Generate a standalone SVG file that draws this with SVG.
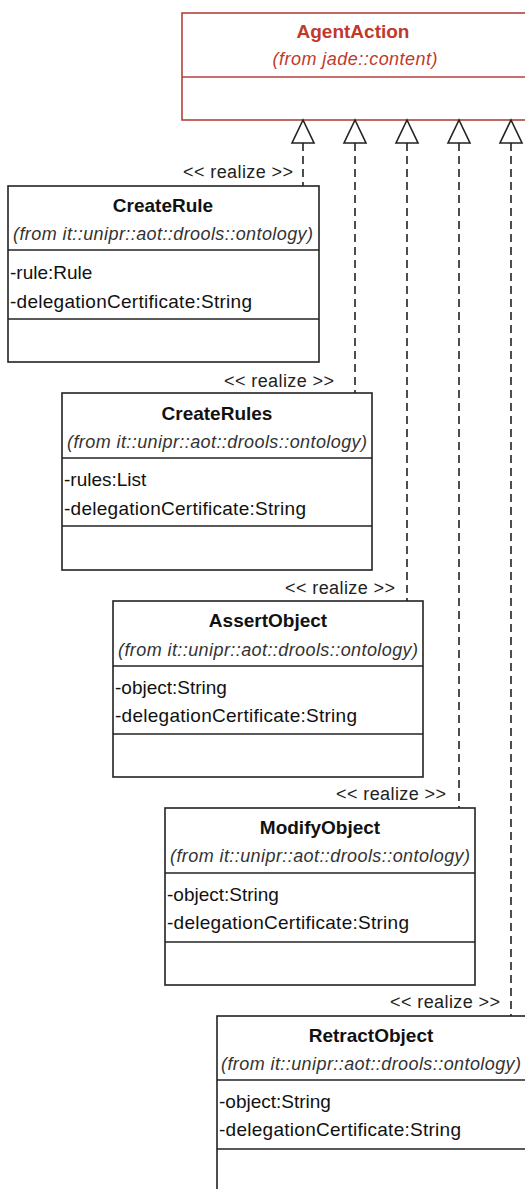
<svg xmlns="http://www.w3.org/2000/svg" width="525" height="1189" viewBox="0 0 525 1189">
<style>
  .box{fill:#ffffff;stroke:#222222;stroke-width:1.6}
  .sep{stroke:#222222;stroke-width:1.6}
  .abox{fill:#ffffff;stroke:#b5413a;stroke-width:1.6}
  .asep{stroke:#b5413a;stroke-width:1.6}
  .title{font-family:"Liberation Sans",Arial,sans-serif;font-weight:bold;font-size:19px;fill:#111111;text-anchor:middle}
  .atitle{font-family:"Liberation Sans",Arial,sans-serif;font-weight:bold;font-size:19px;fill:#c0392b;text-anchor:middle}
  .from{font-family:"Liberation Sans",Arial,sans-serif;font-style:italic;font-size:18px;fill:#333333;text-anchor:middle}
  .afrom{font-family:"Liberation Sans",Arial,sans-serif;font-style:italic;font-size:18px;fill:#c0392b;text-anchor:middle}
  .attr{font-family:"Liberation Sans",Arial,sans-serif;font-size:19px;fill:#111111}
  .lbl{font-family:"Liberation Sans",Arial,sans-serif;font-size:18px;fill:#222222;text-anchor:end}
  .dash{stroke:#222222;stroke-width:1.6;stroke-dasharray:8 5;fill:none}
  .head{fill:#ffffff;stroke:#222222;stroke-width:1.6}
</style>
<rect width="525" height="1189" fill="#ffffff"/>

<g id="AgentAction">
  <rect class="abox" x="182" y="13" width="360" height="107"/>
  <line class="asep" x1="182" y1="77" x2="542" y2="77"/>
  <text class="atitle" x="353" y="38">AgentAction</text>
  <text class="afrom" x="355" y="65" textLength="165">(from jade::content)</text>
</g>

<g id="connectors">
  <path class="dash" d="M303,143 V186"/>
  <path class="dash" d="M355,143 V393"/>
  <path class="dash" d="M407,143 V601"/>
  <path class="dash" d="M459,143 V808"/>
  <path class="dash" d="M511,143 V1016"/>
  <polygon class="head" points="303,120 292,143 314,143"/>
  <polygon class="head" points="355,120 344,143 366,143"/>
  <polygon class="head" points="407,120 396,143 418,143"/>
  <polygon class="head" points="459,120 448,143 470,143"/>
  <polygon class="head" points="511,120 500,143 522,143"/>
  <text class="lbl" x="293" y="178" textLength="110">&lt;&lt; realize &gt;&gt;</text>
  <text class="lbl" x="334" y="387" textLength="110">&lt;&lt; realize &gt;&gt;</text>
  <text class="lbl" x="395" y="594" textLength="110">&lt;&lt; realize &gt;&gt;</text>
  <text class="lbl" x="446" y="800" textLength="110">&lt;&lt; realize &gt;&gt;</text>
  <text class="lbl" x="500" y="1008" textLength="110">&lt;&lt; realize &gt;&gt;</text>
</g>

<g id="CreateRule">
  <rect class="box" x="8" y="186" width="311" height="176"/>
  <line class="sep" x1="8" y1="250" x2="319" y2="250"/>
  <line class="sep" x1="8" y1="319" x2="319" y2="319"/>
  <text class="title" x="163" y="212">CreateRule</text>
  <text class="from" x="163" y="240" textLength="300">(from it::unipr::aot::drools::ontology)</text>
  <text class="attr" x="10" y="279">-rule:Rule</text>
  <text class="attr" x="10" y="308" textLength="242">-delegationCertificate:String</text>
</g>

<g id="CreateRules">
  <rect class="box" x="62" y="393" width="310" height="177"/>
  <line class="sep" x1="62" y1="458" x2="372" y2="458"/>
  <line class="sep" x1="62" y1="526" x2="372" y2="526"/>
  <text class="title" x="217" y="420">CreateRules</text>
  <text class="from" x="217" y="448" textLength="300">(from it::unipr::aot::drools::ontology)</text>
  <text class="attr" x="64" y="486">-rules:List</text>
  <text class="attr" x="64" y="515" textLength="242">-delegationCertificate:String</text>
</g>

<g id="AssertObject">
  <rect class="box" x="113" y="601" width="310" height="176"/>
  <line class="sep" x1="113" y1="666" x2="423" y2="666"/>
  <line class="sep" x1="113" y1="734" x2="423" y2="734"/>
  <text class="title" x="268" y="627">AssertObject</text>
  <text class="from" x="268" y="656" textLength="300">(from it::unipr::aot::drools::ontology)</text>
  <text class="attr" x="115" y="694">-object:String</text>
  <text class="attr" x="115" y="722" textLength="242">-delegationCertificate:String</text>
</g>

<g id="ModifyObject">
  <rect class="box" x="165" y="808" width="310" height="177"/>
  <line class="sep" x1="165" y1="873" x2="475" y2="873"/>
  <line class="sep" x1="165" y1="942" x2="475" y2="942"/>
  <text class="title" x="320" y="834">ModifyObject</text>
  <text class="from" x="320" y="862" textLength="300">(from it::unipr::aot::drools::ontology)</text>
  <text class="attr" x="167" y="901">-object:String</text>
  <text class="attr" x="167" y="929" textLength="242">-delegationCertificate:String</text>
</g>

<g id="RetractObject">
  <rect class="box" x="217" y="1016" width="311" height="178"/>
  <line class="sep" x1="217" y1="1080" x2="528" y2="1080"/>
  <line class="sep" x1="217" y1="1149" x2="528" y2="1149"/>
  <text class="title" x="371" y="1042">RetractObject</text>
  <text class="from" x="371" y="1070" textLength="300">(from it::unipr::aot::drools::ontology)</text>
  <text class="attr" x="219" y="1108">-object:String</text>
  <text class="attr" x="219" y="1136" textLength="242">-delegationCertificate:String</text>
</g>
</svg>
